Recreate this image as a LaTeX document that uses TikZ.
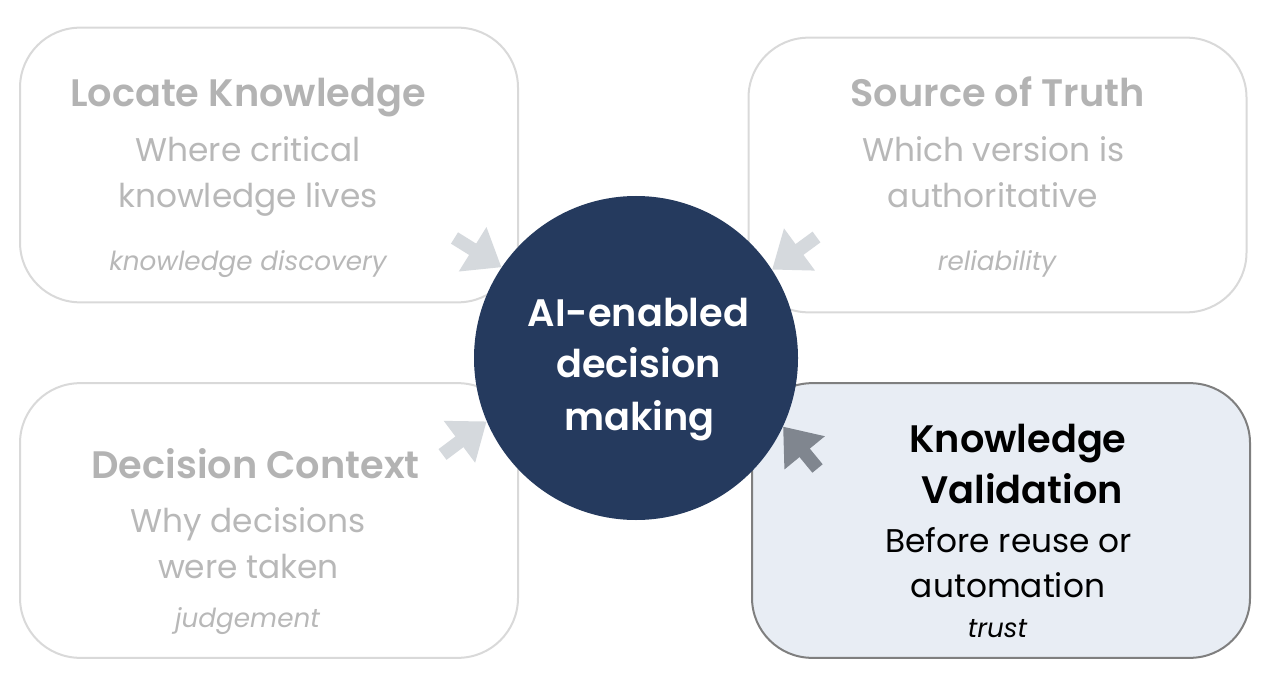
\documentclass[tikz,border=0pt]{standalone}
\usepackage{fontspec}
\setmainfont{Poppins}[BoldFont={Poppins SemiBold}]
\usetikzlibrary{arrows.meta}
\definecolor{navy}{HTML}{253A5E}
\definecolor{boxgray}{HTML}{D9D9D9}
\definecolor{titlegray}{HTML}{B3B3B3}
\definecolor{bodygray}{HTML}{B8B8B8}
\definecolor{arrowgray}{HTML}{D5D9DD}
\definecolor{darkarrow}{HTML}{80868F}
\definecolor{hifill}{HTML}{E8EDF4}
\definecolor{hiborder}{HTML}{7F7F7F}
\begin{document}
\begin{tikzpicture}[x=0.75pt,y=-0.75pt,
  box/.style={draw=boxgray, line width=1.5pt, rounded corners=45pt, fill=white,
    inner sep=0pt, minimum width=373.5pt, minimum height=206pt},
  hibox/.style={box, draw=hiborder, fill=hifill},
  ttl/.style={anchor=base, inner sep=0pt, text=titlegray, font=\fontsize{28.7}{34}\selectfont\bfseries},
  bdy/.style={anchor=base, inner sep=0pt, text=bodygray, font=\fontsize{24.6}{29}\selectfont},
  itl/.style={anchor=base, inner sep=0pt, text=bodygray, font=\fontsize{19.7}{24}\selectfont\itshape},
  hub/.style={circle, fill=navy, inner sep=0pt, minimum size=243pt},
  hubtxt/.style={anchor=base, inner sep=0pt, text=white, font=\fontsize{28.7}{34}\selectfont\bfseries},
  arr/.style={line width=10pt, draw=arrowgray, -{Triangle[width=37.5pt,length=25.5pt]}},
  darr/.style={arr, draw=darkarrow}
]
\useasboundingbox (0,0) rectangle (1276,698);

% boxes
\node[box] (tl) at (269,165) {};
\node[box] (tr) at (997.5,175) {};
\node[box] (bl) at (269,520.5) {};
\node[hibox] (br) at (1001,520.5) {};

% hub
\node[hub] (c) at (636,358) {};
\node[hubtxt] (c1) at (638.5,326) {AI-enabled};
\node[hubtxt] (c2) at (638.5,377) {decision};
\node[hubtxt] (c3) at (639.5,430) {making};

% top left
\node[ttl] (tlT) at (248,107) {Locate Knowledge};
\node[bdy] (tlB1) at (248,162) {Where critical};
\node[bdy] (tlB2) at (248,208) {knowledge lives};
\node[itl] (tlI) at (248,271) {knowledge discovery};

% top right
\node[ttl] (trT) at (997.5,107) {Source of Truth};
\node[bdy] (trB1) at (993.5,162) {Which version is};
\node[bdy] (trB2) at (993,208) {authoritative};
\node[itl] (trI) at (997,271) {reliability};

% bottom left
\node[ttl] (blT) at (255.5,478) {Decision Context};
\node[bdy] (blB1) at (248,532) {Why decisions};
\node[bdy] (blB2) at (248.5,578) {were taken};
\node[itl] (blI) at (247.5,627) {judgement};

% bottom right (highlighted)
\node[ttl, text=black] (brT1) at (1018,452) {Knowledge};
\node[ttl, text=black] (brT2) at (1022,503) {Validation};
\node[bdy, text=black] (brB1) at (1008.5,552) {Before reuse or};
\node[bdy, text=black] (brB2) at (1008,597) {automation};
\node[itl, text=black] (brI) at (997.5,637) {trust};

% arrows
\coordinate (tlA) at (454.5,238);
\coordinate (trA) at (816.5,237);
\coordinate (blA) at (442.5,454.5);
\coordinate (brA) at (817.5,468.5);
\draw[arr] (tlA) -- (c.146);
\draw[arr] (trA) -- (c.33.6);
\draw[arr] (blA) -- (c.203.6);
\draw[darr] (brA) -- (c.-25.1);
\end{tikzpicture}
\end{document}
